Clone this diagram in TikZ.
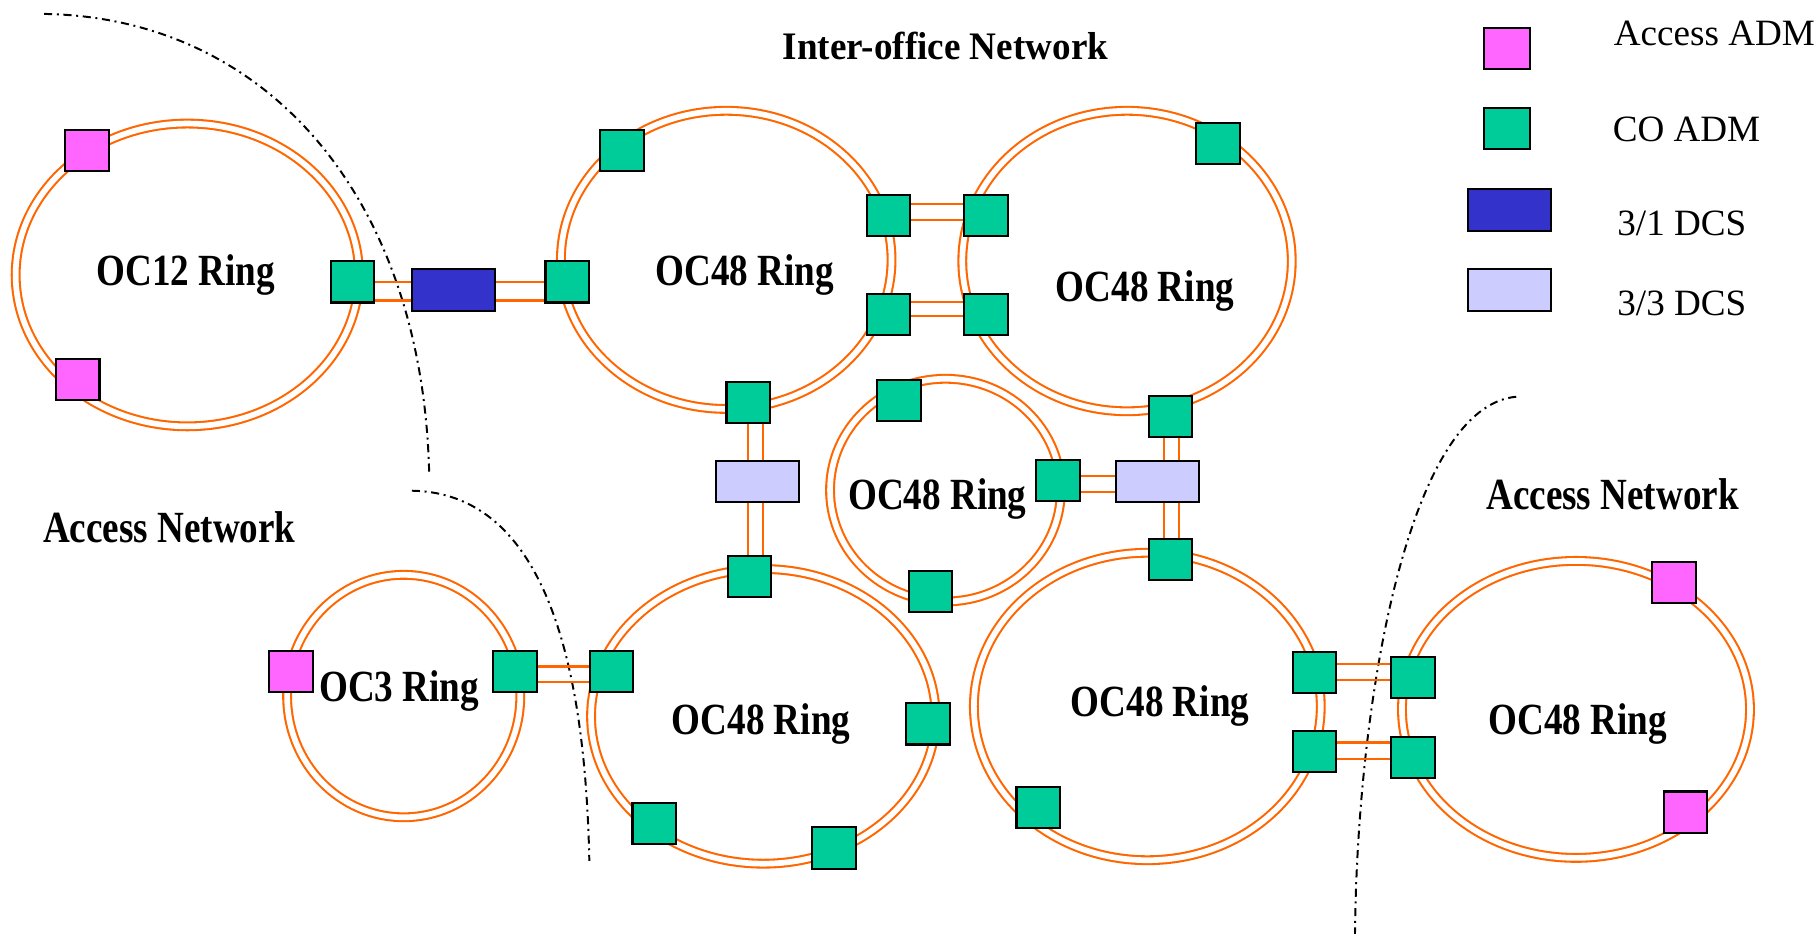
\documentclass[tikz,border=0pt]{standalone}
\usepackage{fontspec}
\setmainfont{Liberation Serif}
\usepackage{graphicx}
\usetikzlibrary{calc}
\definecolor{ringor}{RGB}{255,102,0}
\definecolor{coadm}{RGB}{0,204,153}
\definecolor{accadm}{RGB}{255,102,255}
\definecolor{dcsone}{RGB}{51,51,204}
\definecolor{dcsthree}{RGB}{204,204,255}
\tikzset{
 ring/.style={draw=ringor, line width=1.8pt, double=white, double distance=4.9pt},
 box/.style={draw=black, line width=1.8pt, inner sep=0pt, minimum width=37.5pt, minimum height=35.5pt},
 co/.style={box, fill=coadm},
 acc/.style={box, fill=accadm},
 dcsa/.style={box, fill=dcsone, minimum width=71.5pt},
 dcsb/.style={box, fill=dcsthree, minimum width=71.5pt},
 link/.style={draw=ringor, line width=1.8pt},
 bound/.style={draw=black, line width=1.7pt, dash pattern=on 7pt off 4pt on 1.7pt off 4pt},
 lbl/.style={anchor=base, font=\fontsize{32}{36}\selectfont\bfseries, inner sep=0pt},
 leg/.style={anchor=base west, font=\fontsize{32}{36}\selectfont, inner sep=0pt},
}
\newcommand\hlk[4]{%
 \draw[link] ($(#1.east)+(0,#3)$) -- ($(#1.east -| #2.west)+(0,#3)$);
 \draw[link] ($(#1.east)+(0,#4)$) -- ($(#1.east -| #2.west)+(0,#4)$);}
\newcommand\vlk[4]{%
 \draw[link] ($(#1.south)+(#3,0)$) -- ($(#1.south |- #2.north)+(#3,0)$);
 \draw[link] ($(#1.south)+(#4,0)$) -- ($(#1.south |- #2.north)+(#4,0)$);}
\begin{document}
\begin{tikzpicture}[x=1pt,y=-1pt]
\useasboundingbox (0,0) rectangle (1568,809);
% rings
\draw[ring] (161.5,237) ellipse [x radius=148pt, y radius=130.5pt];
\draw[ring] (626,224) ellipse [x radius=142.5pt, y radius=128.5pt];
\draw[ring] (971.5,225) ellipse [x radius=142pt, y radius=129.5pt];
\draw[ring] (815,422.5) ellipse [x radius=99.5pt, y radius=96pt];
\draw[ring] (658,617.5) ellipse [x radius=148.5pt, y radius=127pt];
\draw[ring] (348,600) ellipse [x radius=100.5pt, y radius=104.5pt];
\draw[ring] (989,609) ellipse [x radius=149.5pt, y radius=132.5pt];
\draw[ring] (1358.5,611.5) ellipse [x radius=150pt, y radius=128pt];
% boundaries
\draw[bound] (38,12) .. controls (230,15) and (365,170) .. (370,410);
\draw[bound] (355,423) .. controls (480,425) and (505,600) .. (508,742);
\draw[bound] (1307,342) .. controls (1215,350) and (1170,600) .. (1168,805);
% ring labels
\node[lbl] (l1) at (160,246) {\scalebox{1}[1.2]{OC12 Ring}};
\node[lbl] (l2) at (642,246) {\scalebox{1}[1.2]{OC48 Ring}};
\node[lbl] (l3) at (987,260) {\scalebox{1}[1.2]{OC48 Ring}};
\node[lbl] (l4) at (808,439) {\scalebox{1}[1.2]{OC48 Ring}};
\node[lbl] (l5) at (656,633) {\scalebox{1}[1.2]{OC48 Ring}};
\node[lbl] (l6) at (344,605) {\scalebox{1}[1.2]{OC3 Ring}};
\node[lbl] (l7) at (1000,618) {\scalebox{1}[1.2]{OC48 Ring}};
\node[lbl] (l8) at (1360,633) {\scalebox{1}[1.2]{OC48 Ring}};
\node[lbl] (t1) at (815,51) {\scalebox{1}[1.05]{Inter-office Network}};
\node[lbl] (t2) at (146,468) {\scalebox{1}[1.2]{Access Network}};
\node[lbl] (t3) at (1390,439) {\scalebox{1}[1.2]{Access Network}};
% nodes
\node[acc] (gA1) at (75,130) {};
\node[acc] (gA2) at (67,327) {};
\node[co] (gA3) at (304,243) {};
\node[dcsa] (dA) at (391,250) {};
\node[co] (gB1) at (489,243) {};
\node[co] (gB2) at (536,130) {};
\node[co] (gB3) at (766,186) {};
\node[co] (gB4) at (766,271) {};
\node[co] (gB5) at (645,347) {};
\node[co] (gC1) at (1050,124) {};
\node[co] (gC2) at (850,186) {};
\node[co] (gC3) at (850,271) {};
\node[co] (gC4) at (1009,359) {};
\node[dcsb] (dL) at (653,415) {};
\node[dcsb] (dR) at (998,415) {};
\node[co] (gD1) at (775,345) {};
\node[co] (gD2) at (912,414) {};
\node[co] (gD3) at (802,510) {};
\node[co] (gE1) at (646,497) {};
\node[co] (gE2) at (527,579) {};
\node[co] (gE3) at (800,624) {};
\node[co] (gE4) at (564,710) {};
\node[co] (gE5) at (719,731) {};
\node[acc] (gG1) at (251,579) {};
\node[co] (gG2) at (444,579) {};
\node[co] (gF1) at (1009,482) {};
\node[co] (gF2) at (895,696) {};
\node[co] (gF3) at (1133,580) {};
\node[co] (gF4) at (1133,648) {};
\node[co] (gH1) at (1218,584) {};
\node[co] (gH2) at (1218,653) {};
\node[acc] (gH3) at (1443,502) {};
\node[acc] (gH4) at (1453,700) {};
% links
\hlk{gA3}{dA}{0}{16}
\hlk{dA}{gB1}{-7}{9}
\hlk{gB3}{gC2}{-10}{4}
\hlk{gB4}{gC3}{-11}{1}
\hlk{gD2}{dR}{-4}{10}
\hlk{gG2}{gE2}{-4.5}{9}
\hlk{gF3}{gH1}{-8}{6}
\hlk{gF4}{gH2}{-8}{6}
\vlk{gB5}{dL}{0}{13}
\vlk{dL}{gE1}{-8}{5}
\vlk{gC4}{dR}{-6}{7.5}
\vlk{dR}{gF1}{5}{18.5}
% legend
\node[acc, minimum width=39.5pt] (k1) at (1299,42) {};
\node[co, minimum width=39.5pt] (k2) at (1299,111) {};
\node[dcsa, minimum height=36.5pt] (k3) at (1301,181) {};
\node[dcsb, minimum height=36.5pt] (k4) at (1301,250) {};
\node[leg] (e1) at (1391,39) {Access ADM};
\node[leg] (e2) at (1390,122) {CO ADM};
\node[leg] (e3) at (1394,203) {3/1 DCS};
\node[leg] (e4) at (1394,272) {3/3 DCS};
\end{tikzpicture}
\end{document}
